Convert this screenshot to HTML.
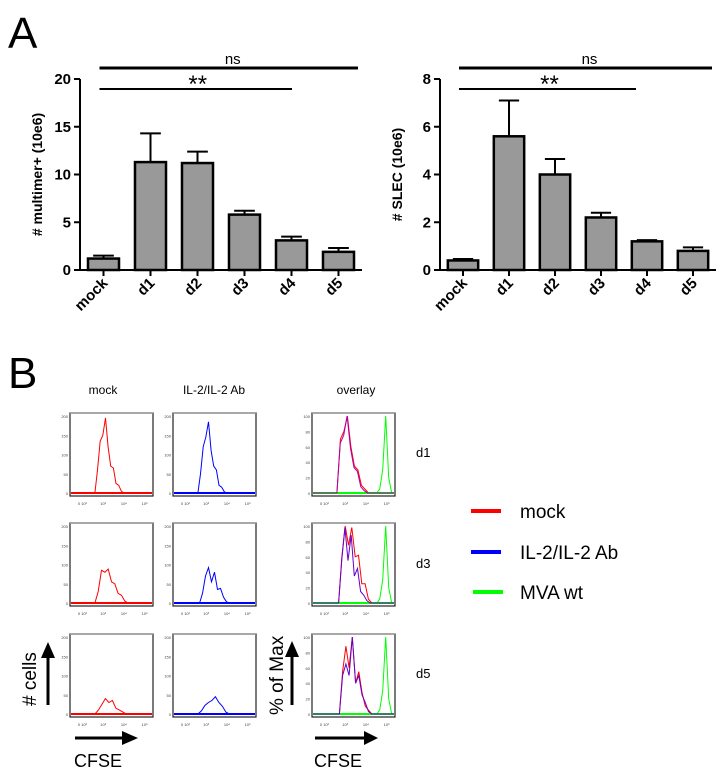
<!DOCTYPE html>
<html><head><meta charset="utf-8"><style>
body{margin:0;background:#fff;}
svg{font-family:"Liberation Sans",sans-serif;display:block}
</style></head><body>
<svg id="fig" width="720" height="772" viewBox="0 0 720 772">
<text x="8" y="48" font-size="44">A</text>
<text x="8" y="388" font-size="44">B</text>
<g id="barA1"></g>
<g id="barA2"></g>
<g id="hists"></g>
<text x="103" y="394" font-size="12" text-anchor="middle">mock</text>
<text x="214" y="394" font-size="12" text-anchor="middle">IL-2/IL-2 Ab</text>
<text x="356" y="394" font-size="12" text-anchor="middle">overlay</text>
<text x="416" y="457" font-size="13">d1</text>
<text x="416" y="568" font-size="13">d3</text>
<text x="416" y="678" font-size="13">d5</text>
<g>
<line x1="471" y1="511" x2="501" y2="511" stroke="#f00" stroke-width="4"/>
<text x="520" y="518" font-size="19">mock</text>
<line x1="471" y1="552" x2="501" y2="552" stroke="#00f" stroke-width="4"/>
<text x="520" y="559" font-size="19">IL-2/IL-2 Ab</text>
<line x1="473" y1="592" x2="503" y2="592" stroke="#0f0" stroke-width="4"/>
<text x="520" y="599" font-size="19">MVA wt</text>
</g>
<g>
<line x1="48" y1="705" x2="48" y2="656" stroke="#000" stroke-width="3"/><polygon points="41,658 55,658 48,642" fill="#000"/>
<text transform="translate(36,706) rotate(-90)" font-size="19"># cells</text>
</g>
<g>
<line x1="75" y1="738" x2="124" y2="738" stroke="#000" stroke-width="3"/><polygon points="122,731 122,745 138,738" fill="#000"/>
<text x="74" y="767" font-size="18">CFSE</text>
</g>
<g>
<line x1="292" y1="705" x2="292" y2="655" stroke="#000" stroke-width="3"/><polygon points="285,657 299,657 292,641" fill="#000"/>
<text transform="translate(283,715) rotate(-90)" font-size="19">% of Max</text>
</g>
<g>
<line x1="315" y1="738" x2="366" y2="738" stroke="#000" stroke-width="3"/><polygon points="364,731 364,745 378,738" fill="#000"/>
<text x="314" y="767" font-size="18">CFSE</text>
</g>
</svg>
<script>
const NS="http://www.w3.org/2000/svg";
const categories=["mock","d1","d2","d3","d4","d5"];
const multimerMeans=[1.2,11.3,11.2,5.8,3.1,1.9];
const multimerErr=[0.3,3.0,1.2,0.4,0.4,0.4];
const multimerTicks=[0,5,10,15,20];
const slecMeans=[0.4,5.6,4.0,2.2,1.2,0.8];
const slecErr=[0.06,1.5,0.65,0.2,0.05,0.15];
const slecTicks=[0,2,4,6,8];

const mockD1=[0,60,135,150,195,120,70,65,25,20,5,0];
const il2D1=[0,50,120,145,185,110,70,60,20,15,3,0];
const mockD3=[0,30,85,80,88,55,50,25,20,5,0];
const il2D3=[0,25,70,92,55,80,35,38,15,3,0];
const mockD5=[0,10,25,40,30,35,15,10,5,0];
const il2D5=[0,8,22,30,35,45,30,20,5,0];
const ovMockD1=[0,70,80,100,60,35,30,10,5,0];
const ovIlD1=[0,65,75,100,58,33,28,8,3,0];
const ovMockD3=[0,60,100,75,98,60,62,25,25,5,0];
const ovIlD3=[0,55,98,55,88,35,45,15,10,3,0];
const ovMockD5=[0,55,88,60,100,40,55,28,10,5,0];
const ovIlD5=[0,50,65,50,100,40,50,25,15,3,0];
const mvaPeak=[0,5,30,100,20,0];

function el(p,t,a){const e=document.createElementNS(NS,t);for(const k in a)e.setAttribute(k,a[k]);p.appendChild(e);return e;}

function barChart(gid,x0,x1,yTop,yBot,ticks,means,errs,ylabel,sigEnd){
 const g=document.getElementById(gid);
 const ymax=ticks[ticks.length-1];
 const y=v=>yBot-(v/ymax)*(yBot-yTop);
 const step=(x1-x0)/categories.length;
 const xc=i=>x0+step*(i+0.5);
 el(g,"line",{x1:x0,y1:yTop,x2:x0,y2:yBot,stroke:"#000","stroke-width":2});
 el(g,"line",{x1:x0,y1:yBot,x2:x1,y2:yBot,stroke:"#000","stroke-width":2});
 ticks.forEach(t=>{el(g,"line",{x1:x0-6,y1:y(t),x2:x0,y2:y(t),stroke:"#000","stroke-width":2});
  const tx=el(g,"text",{x:x0-9,y:y(t)+5,"font-size":15,"font-weight":"bold","text-anchor":"end"});tx.textContent=t;
  
  });
 const yl=el(g,"text",{transform:`translate(${x0-38},${(yTop+yBot)/2}) rotate(-90)`,"font-size":14,"font-weight":"bold","text-anchor":"middle"});yl.textContent=ylabel;
 
 
 categories.forEach((c,i)=>{
  const bw=step*0.66,cx=xc(i);
  el(g,"line",{x1:cx,y1:yBot,x2:cx,y2:yBot+6,stroke:"#000","stroke-width":2});
  const top=y(means[i]+errs[i]);
  el(g,"line",{x1:cx,y1:y(means[i]),x2:cx,y2:top,stroke:"#000","stroke-width":2});
  el(g,"line",{x1:cx-bw/3,y1:top,x2:cx+bw/3,y2:top,stroke:"#000","stroke-width":2});
  const r=el(g,"rect",{x:cx-bw/2,y:y(means[i]),width:bw,height:yBot-y(means[i]),fill:"#999",stroke:"#000","stroke-width":2.5});
  
  
  const t=el(g,"text",{transform:`translate(${cx+5},${yBot+14}) rotate(-45)`,"font-size":15,"font-weight":"bold","text-anchor":"end"});t.textContent=c;
  
  
 });
 el(g,"line",{x1:xc(0)-4,y1:68,x2:x1-4,y2:68,stroke:"#000","stroke-width":3});
 const ns=el(g,"text",{x:(xc(0)+x1)/2,y:64,"font-size":15,"text-anchor":"middle"});ns.textContent="ns";
 
 
 el(g,"line",{x1:xc(0)-4,y1:89,x2:sigEnd,y2:89,stroke:"#000","stroke-width":2});
 const st=el(g,"text",{x:(xc(0)+sigEnd)/2,y:92,"font-size":24,"text-anchor":"middle"});st.textContent="**";
 
 
}
barChart("barA1",80,362,79,270,multimerTicks,multimerMeans,multimerErr,"# multimer+ (10e6)",292);
barChart("barA2",440,716,79,270,slecTicks,slecMeans,slecErr,"# SLEC (10e6)",636);

const hg=document.getElementById("hists");
function hist(bx,by,bw,bh,ymax,tickLabels,series,base){
 el(hg,"rect",{x:bx,y:by,width:bw,height:bh,fill:"#fff",stroke:"#222","stroke-width":1.2});
 el(hg,"line",{x1:bx,y1:by,x2:bx+bw,y2:by,stroke:"#999","stroke-width":1.5});
 const y=v=>by+bh-3-(v/ymax)*(bh-6);
 tickLabels.forEach(t=>{const tx=el(hg,"text",{x:bx-2,y:y(t)+2,"font-size":4,"text-anchor":"end",fill:"#444"});tx.textContent=t;
  
  });
 ["0 10²","10³","10⁴","10⁵"].forEach((t,i)=>{const tx=el(hg,"text",{x:bx+bw*(0.15+i*0.25),y:by+bh+9,"font-size":4,"text-anchor":"middle",fill:"#444"});tx.textContent=t;
  
  });
 el(hg,"line",{x1:bx+1,y1:y(0),x2:bx+bw-1,y2:y(0),stroke:base,"stroke-width":2});
 series.forEach(s=>{
  const v=s.vals,n=v.length;
  let d=`M${bx+1},${y(0)}`;
  v.forEach((val,i)=>{const xx=bx+bw*(s.f0+(s.f1-s.f0)*i/(n-1));d+=` L${xx.toFixed(1)},${y(val).toFixed(1)}`;});
  d+=` L${bx+bw-1},${y(0)}`;
  const p=el(hg,"path",{d:d,fill:"none",stroke:s.c,"stroke-width":1});
  
  
 });
}
const rows=[413,523,634],H=83;
const cnt=[0,50,100,150,200],pct=[0,20,40,60,80,100];
hist(70,rows[0],83,H,200,cnt,[{vals:mockD1,c:"#f00",f0:0.3,f1:0.65}],"#f00");
hist(70,rows[1],83,H,200,cnt,[{vals:mockD3,c:"#f00",f0:0.3,f1:0.7}],"#f00");
hist(70,rows[2],83,H,200,cnt,[{vals:mockD5,c:"#f00",f0:0.3,f1:0.68}],"#f00");
hist(173,rows[0],83,H,200,cnt,[{vals:il2D1,c:"#00f",f0:0.3,f1:0.65}],"#00f");
hist(173,rows[1],83,H,200,cnt,[{vals:il2D3,c:"#00f",f0:0.32,f1:0.68}],"#00f");
hist(173,rows[2],83,H,200,cnt,[{vals:il2D5,c:"#00f",f0:0.3,f1:0.68}],"#00f");
const green={vals:mvaPeak,c:"#0f0",f0:0.78,f1:0.96};
hist(312,rows[0],83,H,100,pct,[green,{vals:ovMockD1,c:"#f00",f0:0.3,f1:0.68},{vals:ovIlD1,c:"#a0a",f0:0.3,f1:0.67}],"#0f0");
hist(312,rows[1],83,H,100,pct,[green,{vals:ovMockD3,c:"#f00",f0:0.32,f1:0.72},{vals:ovIlD3,c:"#60c",f0:0.32,f1:0.7}],"#0f0");
hist(312,rows[2],83,H,100,pct,[green,{vals:ovMockD5,c:"#f00",f0:0.33,f1:0.72},{vals:ovIlD5,c:"#60c",f0:0.33,f1:0.72}],"#0f0");
</script>
</body></html>
